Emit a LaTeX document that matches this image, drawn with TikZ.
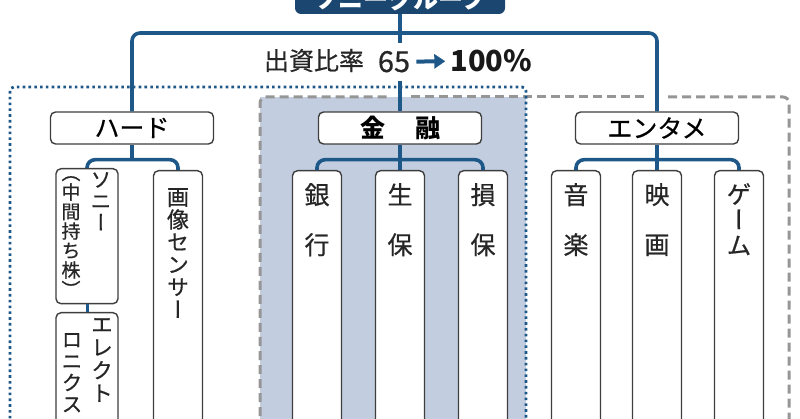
\documentclass[tikz,border=0pt]{standalone}
\usepackage{fontspec}
\setmainfont{Noto Sans CJK JP}[UprightFeatures={FakeBold=0.5}]
\newfontfamily\tate{Noto Sans CJK JP}[RawFeature=+vert, FakeBold=0.5]
\definecolor{SONYnavy}{RGB}{27, 70, 112}
\definecolor{SONYline}{RGB}{30, 88, 136}
\definecolor{FINfill}{RGB}{194, 205, 224}
\definecolor{boxgray}{RGB}{62, 62, 62}
\definecolor{dashgray}{RGB}{150, 150, 150}
\usetikzlibrary{arrows.meta, positioning}

\begin{document}
\begin{tikzpicture}[x=1pt, y=-1pt,
		link/.style={draw=SONYline, line width=3.6pt, rounded corners=8pt},
		grp/.style={draw=boxgray, line width=1.4pt, rounded corners=5pt, fill=white, minimum width=163pt, minimum height=32pt, inner sep=0pt, font=\fontsize{25}{25}\selectfont},
		leaf/.style={draw=boxgray, line width=1.4pt, rounded corners=5pt, fill=white, minimum width=49pt, minimum height=300pt, inner sep=0pt, anchor=north},
		tatetext/.style={anchor=north, inner sep=0pt, align=center, text=black!85}]
	
	\clip (0,0) rectangle (800,419);
	
	% areas
	\fill[FINfill] (260,97) rectangle (526,430);
	\draw[dashgray, line width=3pt, dash pattern=on 9pt off 5pt, rounded corners=6pt] (260,430) -- (260,97) -- (388,97);
	\draw[dashgray, line width=3pt, dash pattern=on 9pt off 5pt] (411,97) -- (644,97);
	\draw[dashgray, line width=3pt, dash pattern=on 9pt off 5pt, rounded corners=6pt] (668,97) -- (789,97) -- (789,430);
	\draw[SONYline, line width=2.8pt, dash pattern=on 2.6pt off 3.2pt, rounded corners=4pt] (10,430) -- (10,87) -- (526,87) -- (526,430);
	
	% top
	\node[fill=SONYnavy, rounded corners=6pt, minimum width=210pt, minimum height=50pt, inner sep=0pt] (sony) at (400,-11) {};
	\node[text=white, font=\fontsize{25}{25}\selectfont\bfseries] (sonyname) at (400,-1) {ソニーグループ};
	
	% groups
	\node[grp] (hard) at (132,128) {ハード};
	\node[grp, font=\fontsize{25}{25}\selectfont\bfseries] (fin) at (400,128) {金\hspace{30pt}融};
	\node[grp] (ent) at (657,128) {エンタメ};
	
	\coordinate (topbus) at (400,33);
	\draw[link] (hard.north) |- (topbus) -| (ent.north);
	\draw[link] (sony.south) -- (fin.north);
	
	%ratio
	\node[anchor=base, inner sep=0pt, text=black!85, font=\fontsize{25}{25}\selectfont] (ratio) at (314,70) {出資比率};
	\node[anchor=base, inner sep=0pt, minimum height=38pt, fill=white, text=black!85, font=\fontsize{29}{29}\selectfont] (pct65) at (394,72) {65};
	\node[base right=40pt of pct65, inner sep=0pt, text=black!90, font=\fontsize{29}{29}\selectfont\bfseries] (pct100) {100\%};
	\draw[SONYline, line width=4pt, -{Triangle[length=11pt,width=14pt]}, shorten <=6pt, shorten >=5pt] (pct65.east) -- (pct100.west);
	
	% hard
	\node[leaf, minimum width=62pt, minimum height=135pt] (sonyhd) at (87,168) {};
	\node[leaf, minimum width=62pt, minimum height=130pt] (elec) at (87,312) {};
	\node[leaf] (sensor) at (178,170) {};
	\path (hard.south) ++(0,15) coordinate (hardbus);
	\draw[link] (hard.south) -- (hardbus);
	\draw[link] (sonyhd.north) |- (hardbus) -| (sensor.north);
	\draw[link, line width=3pt] (sonyhd.south) -- (elec.north);
	
	\node[tatetext, font=\tate\fontsize{21}{21.5}\selectfont] (sonyhdA) at (101,172) {ソ\\ニ\\ー};
	\node[tatetext, font=\tate\fontsize{19}{19.5}\selectfont] (sonyhdB) at (71,176) {（\\中\\間\\持\\ち\\株\\）};
	\node[tatetext, font=\tate\fontsize{22}{23}\selectfont] (elecA) at (102,318) {エ\\レ\\ク\\ト};
	\node[tatetext, font=\tate\fontsize{21}{21.5}\selectfont] (elecB) at (72,333) {ロ\\ニ\\ク\\ス};
	\node[tatetext, font=\tate\fontsize{22}{22.5}\selectfont] (sensortxt) at (178,188) {画\\像\\セ\\ン\\サ\\ー};
	
	% finance
	\node[leaf] (bank) at (317,170) {};
	\node[leaf] (life) at (400,170) {};
	\node[leaf] (nonlife) at (483,170) {};
	\path (fin.south) ++(0,15) coordinate (finbus);
	\draw[link] (fin.south) -- (life.north);
	\draw[link] (bank.north) |- (finbus) -| (nonlife.north);
	
	\node[tatetext, font=\tate\fontsize{25}{50}\selectfont] (banktxt) at (317,183) {銀\\行};
	\node[tatetext, font=\tate\fontsize{25}{50}\selectfont] (lifetxt) at (400,183) {生\\保};
	\node[tatetext, font=\tate\fontsize{25}{50}\selectfont] (nonlifetxt) at (483,183) {損\\保};
	
	% entertainment
	\node[leaf] (music) at (576,170) {};
	\node[leaf] (movie) at (657,170) {};
	\node[leaf] (game) at (739,170) {};
	\path (ent.south) ++(0,15) coordinate (entbus);
	\draw[link] (ent.south) -- (movie.north);
	\draw[link] (music.north) |- (entbus) -| (game.north);
	
	\node[tatetext, font=\tate\fontsize{25}{50}\selectfont] (musictxt) at (576,183) {音\\楽};
	\node[tatetext, font=\tate\fontsize{25}{50}\selectfont] (movietxt) at (657,183) {映\\画};
	\node[tatetext, font=\tate\fontsize{25}{25.5}\selectfont] (gametxt) at (739,183) {ゲ\\ー\\ム};
	
\end{tikzpicture}
\end{document}
